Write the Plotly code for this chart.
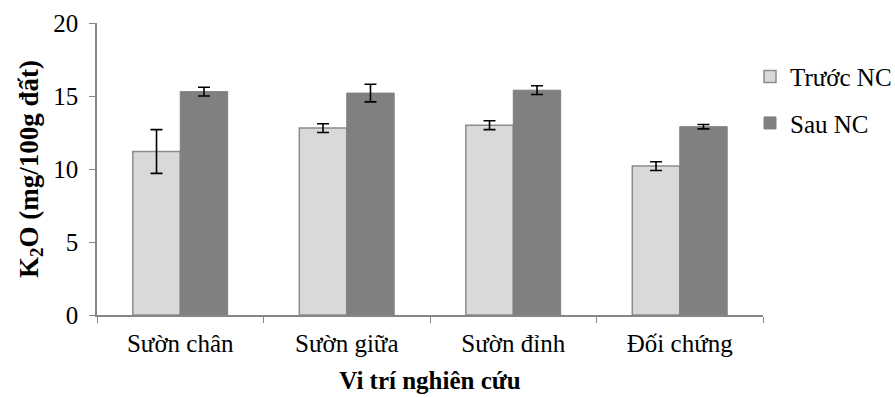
import plotly.graph_objects as go

categories = ["Sườn chân", "Sườn giữa", "Sườn đỉnh", "Đối chứng"]
truoc_nc = [11.2, 12.8, 13.0, 10.2]
truoc_err = [1.5, 0.3, 0.3, 0.3]
sau_nc = [15.3, 15.2, 15.4, 12.9]
sau_err = [0.3, 0.6, 0.3, 0.15]
y_ticks = [0, 5, 10, 15, 20]

FONT = "Liberation Serif"
AXIS_GRAY = "#868686"

fig = go.Figure()
fig.add_trace(go.Bar(
    x=categories, y=truoc_nc, name="Trước NC", legendgroup="a",
    marker=dict(color="#d9d9d9", line=dict(color="#8c8c8c", width=1.5)),
    error_y=dict(type="data", array=truoc_err, color="black", thickness=1.6, width=6),
))
fig.add_trace(go.Bar(
    x=categories, y=sau_nc, name="Sau NC", legendgroup="b",
    marker=dict(color="#808080", line=dict(color="#808080", width=1)),
    error_y=dict(type="data", array=sau_err, color="black", thickness=1.6, width=6),
))

fig.update_layout(
    width=895, height=398,
    margin=dict(l=97, r=132, t=23, b=83, autoexpand=False),
    paper_bgcolor="white", plot_bgcolor="white",
    barmode="group", bargap=0.43, bargroupgap=0,
    font=dict(family=FONT, size=25, color="black"),
    legend=dict(
        x=(750 - 97) / 666, y=0.895, xanchor="left", yanchor="top",
        font=dict(family=FONT, size=25, color="black"),
        traceorder="grouped", tracegroupgap=11,
        itemwidth=30,
        bgcolor="rgba(0,0,0,0)",
    ),
    xaxis=dict(
        showline=True, linecolor=AXIS_GRAY, linewidth=1.5,
        ticks="outside", tickson="boundaries", ticklen=6, tickcolor=AXIS_GRAY,
        ticklabelstandoff=5,
        tickfont=dict(family=FONT, size=25),
        title=dict(text="<b>Vi trí nghiên cứu</b>", font=dict(family=FONT, size=25), standoff=16),
    ),
    yaxis=dict(
        range=[0, 20], tickvals=y_ticks, showgrid=False, zeroline=False,
        showline=True, linecolor=AXIS_GRAY, linewidth=1.5,
        ticks="outside", ticklen=6, tickcolor=AXIS_GRAY, ticklabelstandoff=6,
        tickfont=dict(family=FONT, size=25),
        title=dict(text="<b>K<sub>2</sub>O (mg/100g đất)</b>", font=dict(family=FONT, size=27), standoff=7),
    ),
)

fig.write_html("out.html")
